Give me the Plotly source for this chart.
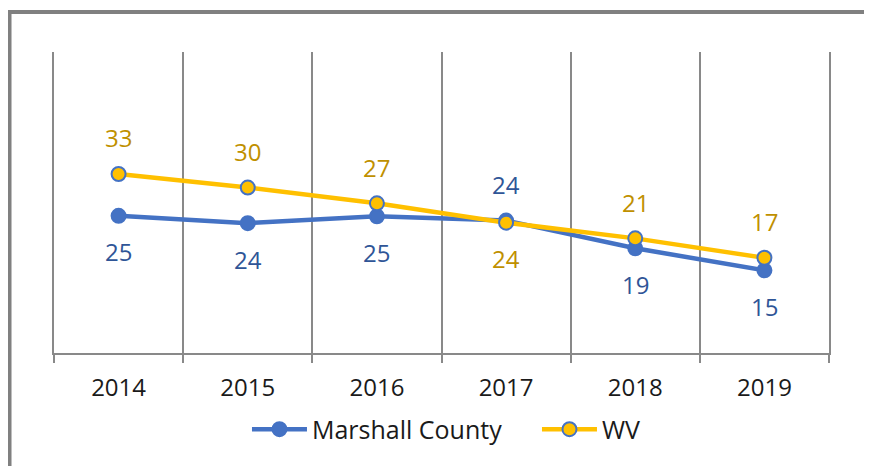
import plotly.graph_objects as go

years = ["2014", "2015", "2016", "2017", "2018", "2019"]
marshall = [25.0, 23.6, 24.9, 24.1, 18.8, 14.6]
wv = [33.0, 30.4, 27.4, 23.7, 20.7, 17.0]
# label placement: +1 above, -1 below
marshall_pos = [-1, -1, -1, 1, -1, -1]
wv_pos = [1, 1, 1, -1, 1, 1]

BLUE = "#4472C4"
GOLD = "#FFC000"
BLUE_TXT = "#2F5597"
GOLD_TXT = "#BF9000"
GRID = "#898989"
FONT = "Open Sans"

fig = go.Figure()
fig.add_trace(go.Scatter(
    x=years, y=marshall, name="Marshall County", mode="lines+markers",
    line=dict(color=BLUE, width=4.5),
    marker=dict(size=14, color=BLUE, line=dict(color=BLUE, width=2)),
))
fig.add_trace(go.Scatter(
    x=years, y=wv, name="WV", mode="lines+markers",
    line=dict(color=GOLD, width=4.5),
    marker=dict(size=14, color=GOLD, line=dict(color=BLUE, width=2)),
))

annotations = []
for vals, pos, col in ((marshall, marshall_pos, BLUE_TXT), (wv, wv_pos, GOLD_TXT)):
    for i, (yv, p) in enumerate(zip(vals, pos)):
        annotations.append(dict(
            x=i, y=yv, xref="x", yref="y", text=f"{yv:.0f}", showarrow=False,
            yshift=36 * p, yanchor="middle", xanchor="center",
            font=dict(family=FONT, size=24, color=col),
        ))

fig.update_layout(
    width=864, height=458,
    margin=dict(l=46, r=43, t=44, b=112.5),
    paper_bgcolor="white", plot_bgcolor="white",
    font=dict(family=FONT, size=24, color="#1a1a1a"),
    showlegend=True,
    legend=dict(orientation="h", x=0.249, xanchor="left", y=-0.254, yanchor="middle",
                font=dict(family=FONT, size=25, color="#1a1a1a"),
                itemwidth=55, entrywidth=220, entrywidthmode="pixels",
                tracegroupgap=0),
    annotations=annotations,
    shapes=[dict(type="rect", xref="paper", yref="paper",
                 x0=-0.0574, x1=1.0529, y0=-0.45, y1=1.1327,
                 line=dict(color="#808080", width=4), fillcolor="rgba(0,0,0,0)",
                 layer="below")],
)
fig.update_xaxes(
    type="category", range=[-0.5, 5.5], tickson="boundaries",
    showgrid=True, gridcolor=GRID, gridwidth=1.5,
    showline=True, linecolor=GRID, linewidth=1.5,
    ticks="outside", ticklen=8, tickcolor=GRID, tickwidth=1.5,
    ticklabelstandoff=12,
    tickfont=dict(family=FONT, size=24, color="#1a1a1a"),
    zeroline=False,
)
fig.update_yaxes(
    range=[-1.2, 56.3], showgrid=False, zeroline=False, showticklabels=False,
    showline=True, mirror=True, linecolor=GRID, linewidth=1.5,
)

fig.write_html("out.html")
